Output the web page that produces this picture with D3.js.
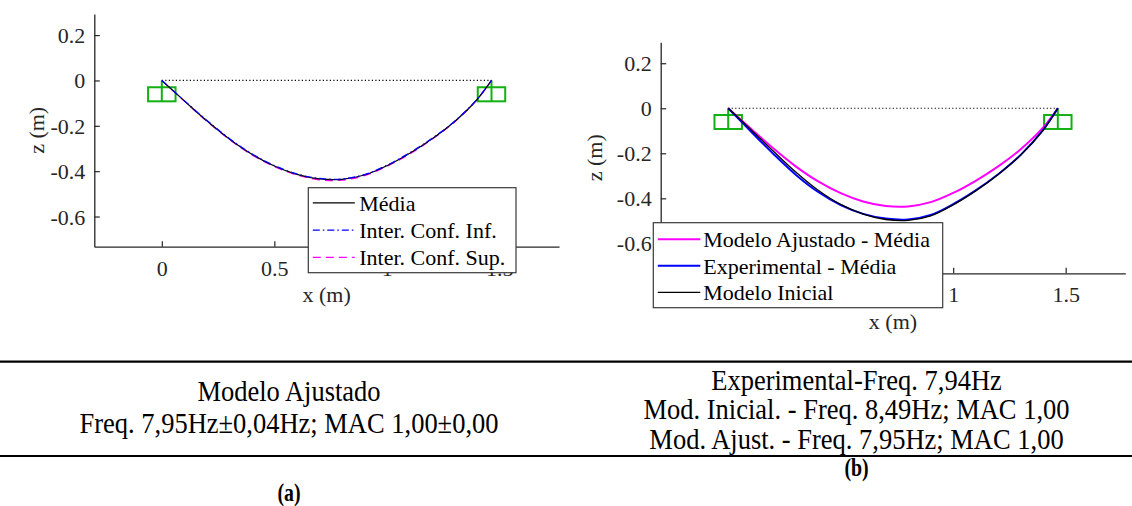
<!DOCTYPE html>
<html>
<head>
<meta charset="utf-8">
<script src="https://cdn.jsdelivr.net/npm/d3@7"></script>
<style>
  html, body { margin: 0; padding: 0; background: #fff; }
  svg { display: block; }
  svg text { font-family: "Liberation Serif", "Tinos", "Times New Roman", "Nimbus Roman", "DejaVu Serif", serif; }
</style>
</head>
<body>
<svg id="fig" width="1132" height="506"></svg>
<script>
// Station positions along the span (m)
const stationX = [0, 0.1, 0.2, 0.3, 0.4, 0.5, 0.6, 0.7, 0.8, 0.9, 1.0, 1.1, 1.2, 1.3, 1.4, 1.465];

// (a) adjusted model: mean and confidence bounds (z, m)
const ajustadoMedia = [0, -0.09, -0.178, -0.258, -0.325, -0.377, -0.414, -0.434, -0.436, -0.417, -0.376, -0.322, -0.258, -0.182, -0.085, 0];
const confInf       = [0, -0.089, -0.176, -0.256, -0.323, -0.375, -0.412, -0.432, -0.434, -0.415, -0.374, -0.32, -0.256, -0.181, -0.084, 0];
const confSup       = [0, -0.091, -0.18, -0.26, -0.328, -0.38, -0.417, -0.438, -0.44, -0.42, -0.379, -0.325, -0.26, -0.184, -0.086, 0];

// (b) experimental mean and initial model (z, m)
const experimentalMedia = [0, -0.102, -0.202, -0.295, -0.372, -0.43, -0.469, -0.49, -0.494, -0.474, -0.426, -0.365, -0.293, -0.207, -0.096, 0];
const modeloInicial     = [0, -0.094, -0.19, -0.283, -0.364, -0.427, -0.47, -0.494, -0.498, -0.478, -0.429, -0.367, -0.294, -0.208, -0.097, 0];

// Supports at both ends of the span
const supportX = [0, 1.465];

// Axis ticks
const xTicks = [0, 0.5, 1, 1.5];
const yTicks = [-0.6, -0.4, -0.2, 0, 0.2];
const xDomain = [-0.3, 1.765];
const yDomain = [-0.733, 0.293];

// Legend labels
const legendA = ["Média", "Inter. Conf. Inf.", "Inter. Conf. Sup."];
const legendB = ["Modelo Ajustado - Média", "Experimental - Média", "Modelo Inicial"];

// Table text
const tableA = ["Modelo Ajustado", "Freq. 7,95Hz±0,04Hz; MAC 1,00±0,00"];
const tableB = ["Experimental-Freq. 7,94Hz", "Mod. Inicial. - Freq. 8,49Hz; MAC 1,00", "Mod. Ajust. - Freq. 7,95Hz; MAC 1,00"];
const panelLabels = ["(a)", "(b)"];

const svg = d3.select("#fig");
const AX = "#262626";
const FS = 22;
const GREEN = "#12b012";

function drawPanel(cfg) {
  const x = d3.scaleLinear().domain(xDomain).range([cfg.left, cfg.right]);
  const y = d3.scaleLinear().domain(yDomain).range([cfg.bottom, cfg.top]);
  const g = svg.append("g");

  // reference chord
  g.append("line")
    .attr("x1", x(supportX[0])).attr("x2", x(supportX[1]))
    .attr("y1", y(0)).attr("y2", y(0))
    .attr("stroke", "#000").attr("stroke-width", 1.2)
    .attr("stroke-dasharray", "1.2,2.3");

  // supports
  supportX.forEach(sx => {
    g.append("rect")
      .attr("x", x(sx - 0.061)).attr("y", y(-0.03))
      .attr("width", x(sx + 0.061) - x(sx - 0.061))
      .attr("height", y(-0.092) - y(-0.03))
      .attr("fill", "none").attr("stroke", GREEN).attr("stroke-width", 2);
    g.append("line")
      .attr("x1", x(sx)).attr("x2", x(sx))
      .attr("y1", y(0)).attr("y2", y(-0.092))
      .attr("stroke", GREEN).attr("stroke-width", 2);
  });

  // axes (box off, ticks inward)
  const xAxis = d3.axisBottom(x).tickValues(xTicks).tickSizeInner(-5.5).tickSizeOuter(0).tickPadding(13.4);
  const yAxis = d3.axisLeft(y).tickValues(yTicks).tickSizeInner(-5.5).tickSizeOuter(0).tickPadding(9);
  const gx = g.append("g").attr("transform", `translate(0,${cfg.bottom})`).call(xAxis);
  const gy = g.append("g").attr("transform", `translate(${cfg.left},0)`).call(yAxis);
  [gx, gy].forEach(a => {
    a.attr("font-family", null);
    a.select(".domain").attr("stroke", AX).attr("stroke-width", 1.3);
    a.selectAll(".tick line").attr("stroke", AX).attr("stroke-width", 1.2);
    a.selectAll(".tick text").attr("fill", AX).attr("font-size", FS);
  });
  gx.selectAll(".tick text").text(d => String(d));
  gy.selectAll(".tick text").text(d => d === 0 ? "0" : String(d)).attr("dy", "0.34em");

  // axis titles
  g.append("text").attr("x", (cfg.left + cfg.right) / 2).attr("y", cfg.bottom + 55.3)
    .attr("text-anchor", "middle").attr("font-size", FS).attr("fill", AX).text("x (m)");
  g.append("text")
    .attr("transform", `translate(${cfg.ylabX},${(cfg.top + cfg.bottom) / 2}) rotate(-90)`)
    .attr("text-anchor", "middle").attr("font-size", FS).attr("fill", AX).text("z (m)");

  // mode-shape curves, in the given stacking order
  const line = d3.line().x((d, i) => x(stationX[i])).y(d => y(d)).curve(d3.curveCatmullRom.alpha(0.5));
  cfg.drawOrder.forEach(k => {
    const s = cfg.series[k];
    g.append("path").datum(s.values).attr("d", line)
      .attr("fill", "none").attr("stroke", s.color).attr("stroke-width", s.width)
      .attr("stroke-dasharray", s.dash || null);
  });

  // legend
  const L = cfg.legend;
  const lg = g.append("g");
  lg.append("rect").attr("x", L.x).attr("y", L.y).attr("width", L.w).attr("height", L.h)
    .attr("fill", "#fff").attr("stroke", "#3a3a3a").attr("stroke-width", 1.2);
  cfg.series.forEach((s, i) => {
    const ly = L.firstY + i * L.step;
    lg.append("line").attr("x1", L.x + 4.5).attr("x2", L.x + 4.5 + L.sample)
      .attr("y1", ly).attr("y2", ly)
      .attr("stroke", s.color).attr("stroke-width", s.width)
      .attr("stroke-dasharray", s.dash || null);
    lg.append("text").attr("x", L.x + L.textDx).attr("y", ly + 8)
      .attr("font-size", FS).attr("fill", "#000").text(s.label);
  });
}

drawPanel({
  left: 94.3, right: 559, top: 14, bottom: 246.7, ylabX: 43.5,
  series: [
    { values: ajustadoMedia, color: "#000000", width: 1.2, label: legendA[0] },
    { values: confInf, color: "#0000ff", width: 1.2, dash: "7,3,1.5,3", label: legendA[1] },
    { values: confSup, color: "#ff00ff", width: 1.2, dash: "8,5", label: legendA[2] }
  ],
  drawOrder: [2, 0, 1],
  legend: { x: 308.3, y: 187.7, w: 207.7, h: 85, firstY: 202.8, step: 27.3, sample: 42, textDx: 51 }
});

drawPanel({
  left: 660.7, right: 1125.3, top: 42.3, bottom: 273.3, ylabX: 602,
  series: [
    { values: ajustadoMedia, color: "#ff00ff", width: 2, label: legendB[0] },
    { values: experimentalMedia, color: "#0000ff", width: 2, label: legendB[1] },
    { values: modeloInicial, color: "#000000", width: 1.3, label: legendB[2] }
  ],
  drawOrder: [0, 1, 2],
  legend: { x: 653.3, y: 222.7, w: 289.4, h: 85, firstY: 239.3, step: 26.5, sample: 42.5, textDx: 50 }
});

// Results table
const tbl = svg.append("g");
[361.7, 456].forEach(ry => {
  tbl.append("line").attr("x1", 0).attr("x2", 1132).attr("y1", ry).attr("y2", ry)
    .attr("stroke", "#000").attr("stroke-width", 2.2);
});
const colA = 289, colB = 856.5;
[401, 433].forEach((by, i) => {
  tbl.append("text").attr("transform", `translate(${colA},${by}) scale(1,1.15)`)
    .attr("text-anchor", "middle").attr("font-size", 26.5).attr("fill", "#000").text(tableA[i]);
});
[389.5, 419, 448.5].forEach((by, i) => {
  tbl.append("text").attr("transform", `translate(${colB},${by}) scale(1,1.15)`)
    .attr("text-anchor", "middle").attr("font-size", 26.5).attr("fill", "#000").text(tableB[i]);
});
[[colA, 501], [colB, 476]].forEach((p, i) => {
  tbl.append("text").attr("transform", `translate(${p[0]},${p[1]}) scale(0.9,1.15)`)
    .attr("text-anchor", "middle").attr("font-size", 22).attr("font-weight", "bold")
    .attr("fill", "#000").text(panelLabels[i]);
});
</script>
</body>
</html>
